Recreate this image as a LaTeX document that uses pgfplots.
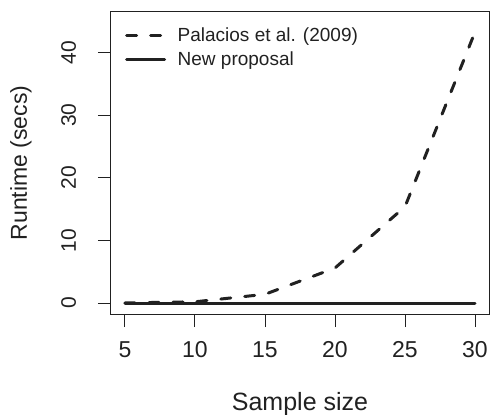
\documentclass[border=0pt]{standalone}
\usepackage{fontspec}
\setmainfont{Liberation Sans}
\usepackage{pgfplots}
\pgfplotsset{compat=1.18}
\definecolor{ink}{rgb}{0.13,0.13,0.13}
\begin{document}
\begin{tikzpicture}
\useasboundingbox (-111bp,-101bp) rectangle (379bp,314bp);
\begin{axis}[
    at={(0,0)}, anchor=south west,
    scale only axis,
    width=378bp, height=302bp,
    xmin=4, xmax=31,
    ymin=-1.75, ymax=46.5,
    xtick={5,10,15,20,25,30},
    ytick={0,10,20,30,40},
    tick align=outside,
    xtick pos=bottom, ytick pos=left,
    major tick length=13bp,
    every tick/.style={ink, line width=1bp},
    axis line style={ink, line width=1bp},
    /pgf/number format/assume math mode=true,
    tick label style={text=ink},
    xticklabel style={font=\fontsize{23bp}{27bp}\selectfont, anchor=base, yshift=-30bp},
    yticklabel style={font=\fontsize{21bp}{25bp}\selectfont, rotate=90, anchor=base, yshift=22bp},
    label style={text=ink},
    xlabel={Sample size},
    ylabel={Runtime (secs)},
    xlabel style={font=\fontsize{25bp}{29bp}\selectfont, at={(axis description cs:0.5,0)}, anchor=base, yshift=-96bp},
    ylabel style={font=\fontsize{23bp}{27bp}\selectfont, at={(axis description cs:0,0.5)}, rotate=0, anchor=base, yshift=84bp},
    legend cell align=left,
    legend style={draw=none, fill=none, at={(axis description cs:0,1)}, anchor=north west,
        xshift=14bp, yshift=-14bp, inner sep=0pt,
        font=\fontsize{19bp}{23bp}\selectfont, text=ink,
        row sep=4bp, column sep=0pt},
    legend image code/.code={\draw[#1] (0bp,0bp) -- (38bp,0bp); \path[draw=none] (38bp,0bp) -- (49bp,0bp);},
]
\addplot[ink, line width=3bp, line cap=round, dash pattern=on 10bp off 14bp]
coordinates {
    (5, 0.02)
    (10, 0.2)
    (15, 1.4)
    (20, 5.6)
    (25, 15.4)
    (30, 43.3)
};
\addlegendentry{Palacios et al. (2009)}
\addplot[ink, line width=3bp, line cap=round]
coordinates {
    (5, 0)
    (10, 0)
    (15, 0)
    (20, 0)
    (25, 0)
    (30, 0)
};
\addlegendentry{New proposal}
\end{axis}
\end{tikzpicture}
\end{document}
